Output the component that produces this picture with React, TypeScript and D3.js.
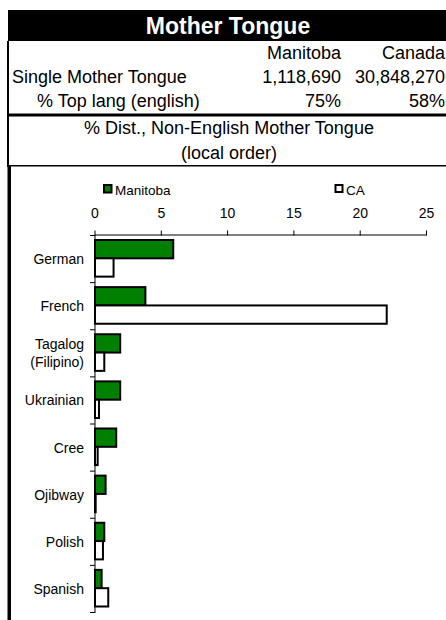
import React from "react";
import * as d3 from "d3";

const categories = ["German", "French", "Tagalog (Filipino)", "Ukrainian", "Cree", "Ojibway", "Polish", "Spanish"];
const manitobaValues = [5.9, 3.8, 1.9, 1.9, 1.6, 0.8, 0.7, 0.5];
const canadaValues = [1.4, 22.0, 0.7, 0.3, 0.2, 0.05, 0.6, 1.0];
const xTicks = [0, 5, 10, 15, 20, 25];
const seriesNames = ["Manitoba", "CA"];
const tableHeaders = ["Manitoba", "Canada"];
const tableRowLabels = ["Single Mother Tongue", "% Top lang (english)"];
const manitobaStats = ["1,118,690", "75%"];
const canadaStats = ["30,848,270", "58%"];

const FONT = "'Liberation Sans', Arial, sans-serif";
const GREEN = "#008000";

export default function App() {
  const W = 446, H = 620;
  const x = d3.scaleLinear().domain([0, 25]).range([95, 426.5]);
  const y = d3.scaleBand<string>().domain(categories).range([235.5, 612.5]).paddingInner(0).paddingOuter(0);
  const bw = y.bandwidth();
  const sub = d3.scaleBand<string>().domain(seriesNames).range([4.5, bw - 6]);

  return (
    <svg width={W} height={H} style={{ position: "absolute", left: 0, top: 0, background: "#fff" }} fontFamily={FONT}>
      {/* title bar */}
      <rect x={8} y={10} width={438} height={31} fill="#000" />
      <text x={228} y={33.5} textAnchor="middle" fill="#fff" fontWeight="bold" fontSize={23}>Mother Tongue</text>

      {/* left border */}
      <rect x={7} y={41} width={2} height={126} fill="#000" />
      <rect x={7.5} y={166} width={3.5} height={454} fill="#000" />

      {/* table */}
      <g fontSize={18} fill="#000">
        <text x={341} y={59} textAnchor="end">{tableHeaders[0]}</text>
        <text x={445} y={59} textAnchor="end">{tableHeaders[1]}</text>
        <text x={12} y={83}>{tableRowLabels[0]}</text>
        <text x={341} y={83} textAnchor="end">{manitobaStats[0]}</text>
        <text x={445} y={83} textAnchor="end">{canadaStats[0]}</text>
        <text x={37} y={107}>{tableRowLabels[1]}</text>
        <text x={341} y={107} textAnchor="end">{manitobaStats[1]}</text>
        <text x={445} y={107} textAnchor="end">{canadaStats[1]}</text>
      </g>
      <rect x={7} y={113.5} width={439} height={3} fill="#000" />
      <g fontSize={18} fill="#000" textAnchor="middle">
        <text x={229} y={133.5}>% Dist., Non-English Mother Tongue</text>
        <text x={229} y={158.5}>(local order)</text>
      </g>
      <rect x={7} y={165} width={439} height={1.5} fill="#000" />

      {/* legend */}
      <g fontSize={13.5}>
        <rect x={104} y={185} width={7.5} height={7.5} fill={GREEN} stroke="#000" strokeWidth={2} />
        <text x={115} y={194.5}>{seriesNames[0]}</text>
        <rect x={335.5} y={185} width={7} height={7} fill="#fff" stroke="#000" strokeWidth={2} />
        <text x={346} y={194.5}>{seriesNames[1]}</text>
      </g>

      {/* x axis (top) */}
      <g>
        {xTicks.map((t) => (
          <g key={t}>
            <text x={x(t)} y={218} textAnchor="middle" fontSize={14}>{t}</text>
            <line x1={x(t)} x2={x(t)} y1={230.5} y2={235.5} stroke="#000" strokeWidth={1} />
          </g>
        ))}
        <line x1={x(0)} x2={x(25)} y1={235} y2={235} stroke="#000" strokeWidth={1} />
      </g>

      {/* y axis */}
      <line x1={95} x2={95} y1={235} y2={613} stroke="#000" strokeWidth={1} />
      {categories.map((c, i) => (
        <line key={"t" + i} x1={90} x2={95} y1={y(c)!} y2={y(c)!} stroke="#000" strokeWidth={1} />
      ))}
      <line x1={90} x2={95} y1={612.5} y2={612.5} stroke="#000" strokeWidth={1} />

      {/* bars */}
      {categories.map((c, i) => {
        const y0 = y(c)!;
        return (
          <g key={c}>
            <rect x={x(0)} y={y0 + sub("Manitoba")!} width={x(manitobaValues[i]) - x(0)} height={sub.bandwidth()} fill={GREEN} stroke="#000" strokeWidth={2} />
            <rect x={x(0)} y={y0 + sub("CA")!} width={x(canadaValues[i]) - x(0)} height={sub.bandwidth()} fill="#fff" stroke="#000" strokeWidth={2} />
          </g>
        );
      })}

      {/* category labels */}
      <g fontSize={14} textAnchor="end">
        {categories.map((c) => {
          const cy = y(c)! + bw / 2;
          if (c.includes(" (")) {
            const [a, b] = [c.split(" (")[0], "(" + c.split(" (")[1]];
            return (
              <text key={c} x={84} y={cy}>
                <tspan x={84} y={cy - 4}>{a}</tspan>
                <tspan x={84} y={cy + 13.5}>{b}</tspan>
              </text>
            );
          }
          return <text key={c} x={84} y={cy + 5}>{c}</text>;
        })}
      </g>
    </svg>
  );
}
